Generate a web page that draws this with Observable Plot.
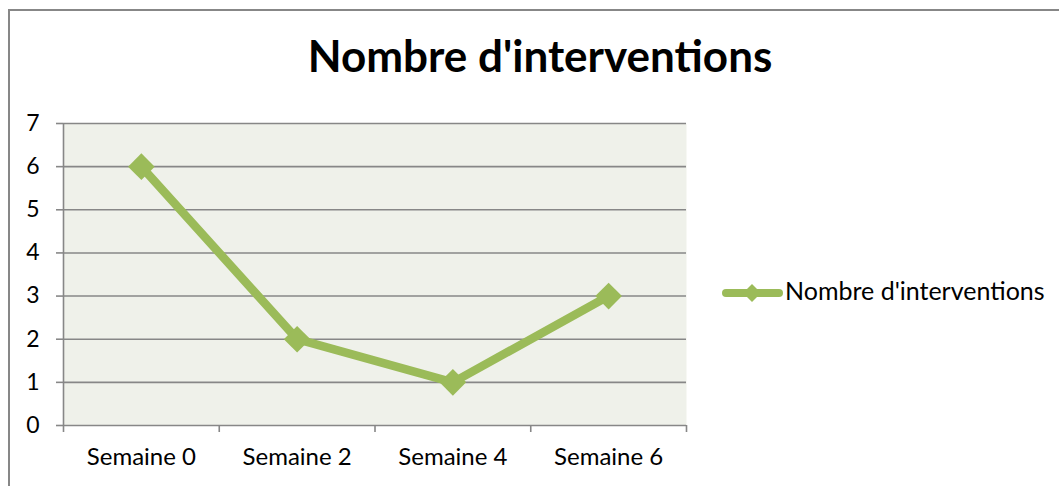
<!DOCTYPE html>
<html><head><meta charset="utf-8">
<script src="https://cdn.jsdelivr.net/npm/d3@7"></script>
<script src="https://cdn.jsdelivr.net/npm/@observablehq/plot@0.6"></script>
<style>
html,body{margin:0;padding:0;background:#fff;}
body{width:1059px;height:486px;overflow:hidden;position:relative;font-family:Lato,"Open Sans",sans-serif;color:#000;}
#frame{position:absolute;left:8px;top:9px;width:1070px;height:600px;border:2px solid #878787;box-sizing:border-box;}
#title{position:absolute;left:0;width:1080px;top:31px;text-align:center;font-weight:bold;font-size:44px;line-height:48px;white-space:nowrap;}
#chart{position:absolute;left:0;top:0;}
#legendSwatch{position:absolute;left:719px;top:279px;}
#legendText{position:absolute;left:785px;top:275px;font-size:25px;line-height:30px;white-space:nowrap;}
</style>
</head><body>
<div id="frame"></div>
<div id="chart"></div>
<div id="title"></div>
<svg id="legendSwatch" width="66" height="28" viewBox="0 0 66 28"></svg>
<div id="legendText"></div>
<script>
const categories = ["Semaine 0", "Semaine 2", "Semaine 4", "Semaine 6"];
const values = [6, 2, 1, 3];
const seriesName = "Nombre d'interventions";
const chartTitle = "Nombre d'interventions";
const yTicks = [0, 1, 2, 3, 4, 5, 6, 7];

const lineColor = "#9BBB59";
const gridColor = "#878787";

const data = categories.map((c, i) => ({i, c, v: values[i]}));
const centers = categories.map((c, i) => i);
const bounds = d3.range(categories.length + 1).map(k => k - 0.5);

document.getElementById("title").textContent = chartTitle;

const chart = Plot.plot({
  width: 1059,
  height: 486,
  marginLeft: 63,
  marginRight: 373,
  marginTop: 123,
  marginBottom: 61,
  style: {fontFamily: "Lato, 'Open Sans', sans-serif", fontSize: "23px", color: "#000", background: "transparent", overflow: "visible"},
  x: {domain: [-0.5, categories.length - 0.5], label: null},
  y: {domain: [0, 7], label: null},
  marks: [
    Plot.frame({fill: "#EFF1EA", stroke: null}),
    Plot.gridY(yTicks, {stroke: gridColor, strokeOpacity: 1, strokeWidth: 1.6}),
    Plot.axisY(yTicks, {tickSize: 7, tickPadding: 17, stroke: gridColor, strokeWidth: 1.6, fill: "#000", fontSize: 23, tickFormat: d => String(d)}),
    Plot.ruleX([-0.5], {stroke: gridColor, strokeWidth: 1.6}),
    Plot.axisX(bounds, {tickSize: 7, stroke: gridColor, strokeWidth: 1.6, tickFormat: () => ""}),
    Plot.axisX(centers, {tickSize: 0, tickPadding: 22, fill: "#000", fontSize: 24, tickFormat: i => categories[i]}),
    Plot.line(data, {x: "i", y: "v", stroke: lineColor, strokeWidth: 8.5, strokeLinejoin: "round"}),
    Plot.dot(data, {x: "i", y: "v", symbol: "diamond2", r: 12, fill: lineColor, stroke: null})
  ]
});
document.getElementById("chart").appendChild(chart);

document.getElementById("legendSwatch").innerHTML =
  `<line x1="7" y1="14" x2="60" y2="14" stroke="${lineColor}" stroke-width="8" stroke-linecap="round"/>
   <path d="M33 5 L42 14 L33 23 L24 14 Z" fill="${lineColor}"/>`;
document.getElementById("legendText").textContent = seriesName;
</script>
</body></html>
